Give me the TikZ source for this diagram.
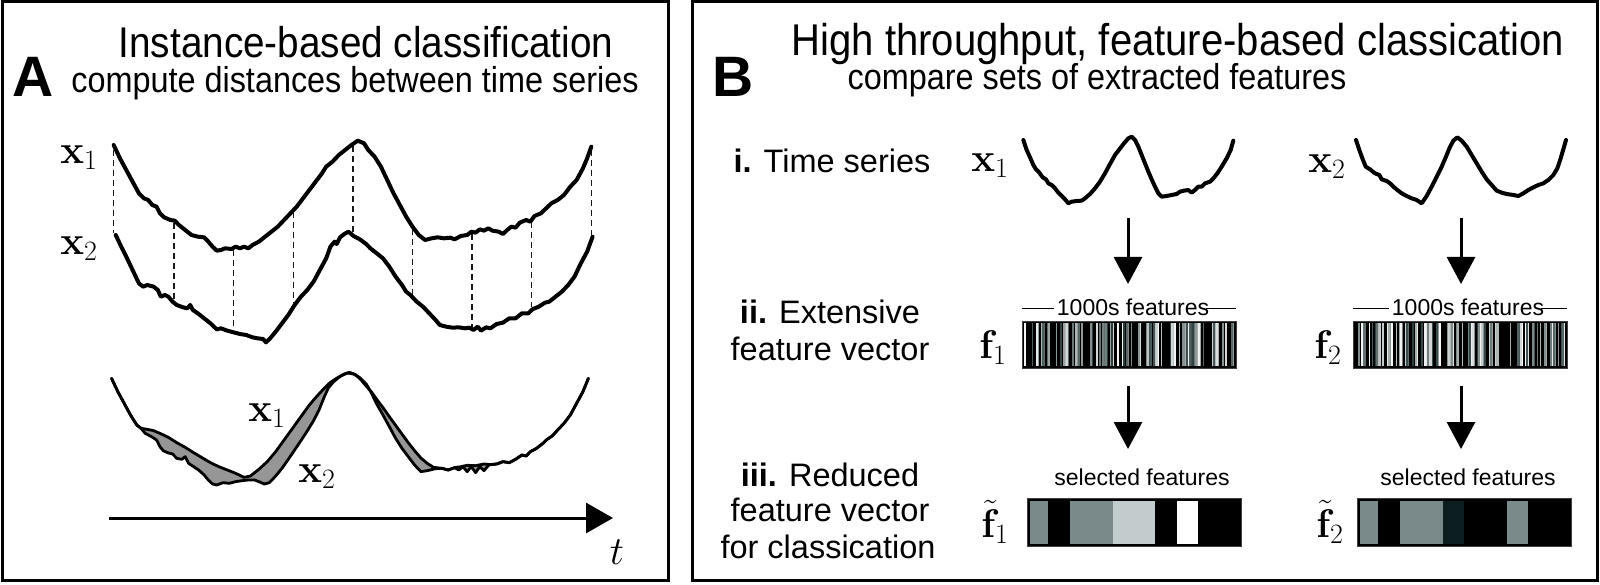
\RequirePackage{fix-cm}
\documentclass[tikz,border=0pt]{standalone}
\usepackage[no-math]{fontspec}
\setmainfont{Liberation Sans}
\newfontfamily\titlefont[FakeStretch=0.9]{Liberation Sans}
\usetikzlibrary{arrows.meta}
\definecolor{fillgray}{RGB}{150,150,150}
\definecolor{bartone}{RGB}{40,58,58}
\definecolor{cellgray}{RGB}{122,138,138}
\definecolor{celllight}{RGB}{195,204,204}
\definecolor{celldark}{RGB}{12,30,32}
\newcommand\drawbarcode[2]{%
  \pgfmathsetseed{#2}%
  \foreach \i in {0,...,139}{%
    \pgfmathsetmacro\r{rnd}%
    \pgfmathtruncatemacro\s{100*rnd}%
    \pgfmathsetmacro\xa{#1+2+1.5*\i}%
    \ifdim\r pt>0.45pt
      \fill[white!\s!bartone] (\xa,323) rectangle ++(1.5,43);
    \fi
  }%
}
\def\bA{(265,235) -- (280,275) -- (295,310) -- (310,345) -- (325,375) -- (335,385) -- (350,388) -- (365,392) -- (380,400) -- (400,412) -- (420,428) -- (440,442) -- (460,458) -- (480,473) -- (500,488) -- (520,500) -- (540,510) -- (560,520) -- (580,532) -- (595,528) -- (615,508) -- (635,485) -- (655,455) -- (675,420) -- (695,385) -- (715,350) -- (735,315) -- (752,290) -- (768,268) -- (782,250) -- (797,237) -- (812,226) -- (826,219) -- (840,222) -- (855,233) -- (870,252) -- (882,278) -- (895,312) -- (910,345) -- (925,380) -- (940,415) -- (955,445) -- (970,470) -- (985,495) -- (1000,515) -- (1015,512) -- (1035,506) -- (1050,505) -- (1065,510) -- (1080,503) -- (1095,500) -- (1110,496) -- (1130,497) -- (1150,492) -- (1165,494) -- (1180,492) -- (1195,485) -- (1210,488) -- (1225,478) -- (1240,465) -- (1250,468) -- (1260,455) -- (1275,445) -- (1290,430) -- (1300,418) -- (1312,408) -- (1325,390) -- (1340,370) -- (1355,345) -- (1370,310) -- (1385,275) -- (1398,235)}
\def\bB{(265,235) -- (280,275) -- (295,310) -- (310,345) -- (325,375) -- (335,385) -- (345,400) -- (360,410) -- (372,420) -- (380,440) -- (388,452) -- (398,458) -- (410,462) -- (420,475) -- (432,478) -- (440,470) -- (448,490) -- (460,500) -- (472,510) -- (485,525) -- (495,540) -- (505,552) -- (515,555) -- (530,548) -- (545,550) -- (560,545) -- (575,542) -- (590,540) -- (605,540) -- (615,545) -- (628,552) -- (640,548) -- (655,528) -- (670,505) -- (685,478) -- (700,450) -- (715,422) -- (730,393) -- (745,362) -- (758,330) -- (770,292) -- (780,264) -- (792,246) -- (805,232) -- (818,222) -- (830,217) -- (845,224) -- (858,240) -- (870,258) -- (882,275) -- (895,298) -- (910,323) -- (925,350) -- (940,376) -- (955,402) -- (970,428) -- (985,452) -- (1000,474) -- (1015,490) -- (1030,502) -- (1050,505) -- (1065,510) -- (1080,503) -- (1090,510) -- (1100,500) -- (1110,515) -- (1120,500) -- (1130,518) -- (1140,500) -- (1150,512) -- (1162,494) -- (1180,492) -- (1195,485) -- (1210,488) -- (1225,478) -- (1240,465) -- (1250,468) -- (1260,455) -- (1275,445) -- (1290,430) -- (1300,418) -- (1312,408) -- (1325,390) -- (1340,370) -- (1355,345) -- (1370,310) -- (1385,275) -- (1398,235)}
\def\bBrev{(1398,235) -- (1385,275) -- (1370,310) -- (1355,345) -- (1340,370) -- (1325,390) -- (1312,408) -- (1300,418) -- (1290,430) -- (1275,445) -- (1260,455) -- (1250,468) -- (1240,465) -- (1225,478) -- (1210,488) -- (1195,485) -- (1180,492) -- (1162,494) -- (1150,512) -- (1140,500) -- (1130,518) -- (1120,500) -- (1110,515) -- (1100,500) -- (1090,510) -- (1080,503) -- (1065,510) -- (1050,505) -- (1030,502) -- (1015,490) -- (1000,474) -- (985,452) -- (970,428) -- (955,402) -- (940,376) -- (925,350) -- (910,323) -- (895,298) -- (882,275) -- (870,258) -- (858,240) -- (845,224) -- (830,217) -- (818,222) -- (805,232) -- (792,246) -- (780,264) -- (770,292) -- (758,330) -- (745,362) -- (730,393) -- (715,422) -- (700,450) -- (685,478) -- (670,505) -- (655,528) -- (640,548) -- (628,552) -- (615,545) -- (605,540) -- (590,540) -- (575,542) -- (560,545) -- (545,550) -- (530,548) -- (515,555) -- (505,552) -- (495,540) -- (485,525) -- (472,510) -- (460,500) -- (448,490) -- (440,470) -- (432,478) -- (420,475) -- (410,462) -- (398,458) -- (388,452) -- (380,440) -- (372,420) -- (360,410) -- (345,400) -- (335,385) -- (325,375) -- (310,345) -- (295,310) -- (280,275) -- (265,235)}
\begin{document}
\begin{tikzpicture}[x=1pt,y=-1pt,
  frame/.style={line width=3pt},
  series/.style={line width=4pt, line join=round, line cap=round},
  thinseries/.style={line width=2.8pt, line join=round, line cap=round},
  guide/.style={line width=1.6pt, dash pattern=on 6pt off 4pt, black!90},
  flow/.style={line width=3pt, -{Triangle[length=27pt,width=28pt]}},
  rulestyle/.style={line width=1.5pt},
  panel/.style={font=\fontsize{57}{60}\selectfont\bfseries, inner sep=0pt, anchor=base},
  maintitle/.style={font=\titlefont\fontsize{43}{48}\selectfont, inner sep=0pt, anchor=base},
  subtitle/.style={font=\titlefont\fontsize{36}{40}\selectfont, inner sep=0pt, anchor=base},
  rowlabel/.style={font=\fontsize{32.5}{36}\selectfont, inner sep=0pt, anchor=base},
  mathlabel/.style={font=\fontsize{40}{44}\selectfont, inner sep=0pt},
  smalltext/.style={font=\fontsize{23}{26}\selectfont, inner sep=1pt, anchor=base},
  barbox/.style={fill=black, draw=black!75, line width=0.8pt, inner sep=0pt, minimum width=214pt, minimum height=47pt},
]
\useasboundingbox (0,0) rectangle (1600,585);
% frames
\draw[frame] (2,2) rectangle (668,580);
\draw[frame] (692,2) rectangle (1597,580);
% ---------- Panel A ----------
\node[panel] (lblA) at (33,97) {A};
\node[maintitle] (ttlA) at (366,58) {Instance-based classification};
\node[subtitle] (subA) at (355,93) {compute distances between time series};
\node[mathlabel] (ax1) at (79,158) {$\mathbf{x}_1$};
\node[mathlabel] (ax2) at (79,249) {$\mathbf{x}_2$};
\begin{scope}[shift={(0,100)}, xscale=0.42088, yscale=0.33333]
  \coordinate (g1t) at (270,150);  \coordinate (g1b) at (270,400);
  \coordinate (g2t) at (413,368);  \coordinate (g2b) at (413,598);
  \coordinate (g3t) at (555,450);  \coordinate (g3b) at (555,690);
  \coordinate (g4t) at (697,337);  \coordinate (g4b) at (697,610);
  \coordinate (g5t) at (838,138);  \coordinate (g5b) at (838,400);
  \coordinate (g6t) at (980,386);  \coordinate (g6b) at (980,588);
  \coordinate (g7t) at (1122,401); \coordinate (g7b) at (1122,680);
  \coordinate (g8t) at (1263,366); \coordinate (g8b) at (1263,622);
  \coordinate (g9t) at (1405,150); \coordinate (g9b) at (1405,405);
  \foreach \k in {1,...,9}{\draw[guide] (g\k t) -- (g\k b);}
  \draw[series] (270,135) -- (285,175) -- (300,210) -- (315,245) -- (330,280) -- (342,295) -- (352,300) -- (362,315) -- (372,320) -- (380,340) -- (390,352) -- (405,360) -- (415,362) -- (425,375) -- (440,390) -- (455,405) -- (470,410) -- (485,412) -- (495,425) -- (505,440) -- (515,452) -- (525,450) -- (535,445) -- (550,447) -- (560,440) -- (570,445) -- (580,440) -- (590,445) -- (600,435) -- (615,425) -- (630,410) -- (645,395) -- (660,380) -- (675,360) -- (690,340) -- (705,320) -- (720,295) -- (735,270) -- (750,245) -- (765,220) -- (775,200) -- (790,185) -- (805,165) -- (820,150) -- (835,135) -- (850,122) -- (865,130) -- (875,150) -- (890,170) -- (905,200) -- (920,240) -- (935,280) -- (950,315) -- (965,350) -- (980,380) -- (995,405) -- (1010,420) -- (1025,415) -- (1040,412) -- (1055,415) -- (1070,413) -- (1080,418) -- (1095,408) -- (1110,405) -- (1120,395) -- (1130,398) -- (1140,388) -- (1150,392) -- (1160,385) -- (1170,392) -- (1185,395) -- (1195,402) -- (1205,390) -- (1215,380) -- (1225,383) -- (1235,368) -- (1250,360) -- (1260,365) -- (1270,348) -- (1285,340) -- (1300,322) -- (1310,310) -- (1325,300) -- (1340,285) -- (1355,260) -- (1370,240) -- (1385,205) -- (1395,175) -- (1405,140);
  \draw[series] (275,405) -- (288,440) -- (300,470) -- (315,510) -- (330,550) -- (340,560) -- (350,555) -- (365,560) -- (375,570) -- (382,590) -- (392,585) -- (400,590) -- (410,605) -- (420,615) -- (435,622) -- (445,625) -- (452,615) -- (458,630) -- (470,640) -- (485,655) -- (500,670) -- (515,688) -- (525,685) -- (540,692) -- (555,697) -- (570,702) -- (585,705) -- (600,712) -- (612,715) -- (625,717) -- (632,727) -- (642,715) -- (655,695) -- (670,670) -- (685,645) -- (700,615) -- (715,590) -- (730,570) -- (745,545) -- (760,510) -- (775,475) -- (785,440) -- (795,425) -- (800,432) -- (808,412) -- (818,402) -- (828,395) -- (840,408) -- (855,418) -- (870,432) -- (880,445) -- (895,460) -- (910,475) -- (925,500) -- (940,530) -- (955,555) -- (965,575) -- (975,585) -- (990,605) -- (1005,620) -- (1020,640) -- (1035,660) -- (1045,675) -- (1060,680) -- (1075,683) -- (1090,682) -- (1105,685) -- (1115,683) -- (1125,690) -- (1135,680) -- (1143,692) -- (1155,682) -- (1165,685) -- (1180,672) -- (1195,668) -- (1210,655) -- (1225,655) -- (1240,640) -- (1255,640) -- (1265,628) -- (1280,620) -- (1295,608) -- (1305,605) -- (1320,590) -- (1335,575) -- (1350,555) -- (1365,530) -- (1380,490) -- (1395,455) -- (1408,410);
\end{scope}
\begin{scope}[shift={(0,300)}, xscale=0.42088, yscale=0.33333]
  \fill[fillgray] \bA -- \bBrev -- cycle;
  \draw[thinseries] \bA;
  \draw[thinseries] \bB;
\end{scope}
\node[mathlabel] (bx1) at (267,416) {$\mathbf{x}_1$};
\node[mathlabel] (bx2) at (317,477) {$\mathbf{x}_2$};
\coordinate (t0) at (109,518);
\coordinate (t1) at (613,518);
\draw[line width=3pt, -{Triangle[length=27pt,width=30pt]}] (t0) -- (t1);
\node[mathlabel] (tl) at (617,552) {$t$};
% ---------- Panel B ----------
\node[panel] (lblB) at (733,97) {B};
\node[maintitle, font=\titlefont\fontsize{44.5}{48}\selectfont] (ttlB) at (1178,56) {High throughput, feature-based classication};
\node[subtitle] (subB) at (1097,90) {compare sets of extracted features};
\node[rowlabel] (r1) at (832,173) {\textbf{i.} Time series};
\node[rowlabel] (r2a) at (830,323) {\textbf{ii.} Extensive};
\node[rowlabel] (r2b) at (830,360) {feature vector};
\node[rowlabel] (r3a) at (830,486) {\textbf{iii.} Reduced};
\node[rowlabel] (r3b) at (830,521) {feature vector};
\node[rowlabel] (r3c) at (828,558) {for classication};
% time series
\node[mathlabel] (sx1) at (990,166) {$\mathbf{x}_1$};
\node[mathlabel] (sx2) at (1327,167) {$\mathbf{x}_2$};
\begin{scope}[shift={(980,120)}, scale=0.33333]
  \draw[series] (130,60) -- (140,90) -- (150,112) -- (160,135) -- (168,148) -- (178,158) -- (188,172) -- (198,178) -- (205,190) -- (215,195) -- (225,205) -- (235,218) -- (245,228) -- (255,238) -- (265,250) -- (275,245) -- (290,243) -- (305,242) -- (315,235) -- (330,222) -- (345,205) -- (360,185) -- (375,160) -- (390,132) -- (405,105) -- (418,88) -- (432,70) -- (445,55) -- (455,50) -- (465,60) -- (475,80) -- (485,105) -- (495,130) -- (505,155) -- (515,178) -- (525,200) -- (535,220) -- (545,230) -- (560,228) -- (575,225) -- (590,222) -- (600,215) -- (612,212) -- (625,210) -- (635,218) -- (645,210) -- (655,200) -- (665,200) -- (675,190) -- (690,185) -- (700,175) -- (712,160) -- (725,140) -- (740,115) -- (752,90) -- (760,62);
\end{scope}
\begin{scope}[shift={(1320,120)}, scale=0.33333]
  \draw[series] (108,60) -- (118,90) -- (127,115) -- (137,140) -- (150,148) -- (165,160) -- (178,165) -- (185,178) -- (200,183) -- (210,190) -- (220,200) -- (232,210) -- (245,220) -- (260,228) -- (275,235) -- (290,240) -- (305,250) -- (320,228) -- (335,200) -- (350,170) -- (365,140) -- (378,110) -- (388,85) -- (400,62) -- (412,52) -- (425,62) -- (440,80) -- (455,105) -- (470,130) -- (485,155) -- (500,178) -- (515,195) -- (530,212) -- (545,218) -- (560,222) -- (580,225) -- (595,228) -- (610,220) -- (625,210) -- (640,202) -- (655,195) -- (670,190) -- (685,180) -- (700,165) -- (712,145) -- (722,115) -- (738,60);
\end{scope}
% arrows
\coordinate (a1s) at (1128,218); \coordinate (a1e) at (1128,284);
\coordinate (a2s) at (1461,218); \coordinate (a2e) at (1461,284);
\coordinate (a3s) at (1128,386); \coordinate (a3e) at (1128,449);
\coordinate (a4s) at (1461,386); \coordinate (a4e) at (1461,449);
\draw[flow] (a1s) -- (a1e);
\draw[flow] (a2s) -- (a2e);
\draw[flow] (a3s) -- (a3e);
\draw[flow] (a4s) -- (a4e);
% extensive feature vectors
\node[barbox] (fv1) at (1129,344.5) {};
\drawbarcode{1022}{11}
\node[barbox] (fv2) at (1460,344.5) {};
\drawbarcode{1353}{29}
\node[smalltext] (c1) at (1133,315) {1000s features};
\node[smalltext] (c2) at (1468,315) {1000s features};
\draw[rulestyle] ([yshift=4pt]fv1.north west |- c1.mid) -- ([xshift=-2pt,yshift=4pt]c1.mid west);
\draw[rulestyle] ([xshift=-4pt,yshift=4pt]c1.mid east) -- ([yshift=4pt]fv1.north east |- c1.mid);
\draw[rulestyle] ([yshift=4pt]fv2.north west |- c2.mid) -- ([xshift=-2pt,yshift=4pt]c2.mid west);
\draw[rulestyle] ([xshift=-4pt,yshift=4pt]c2.mid east) -- ([yshift=4pt]fv2.north east |- c2.mid);
\node[mathlabel] (fl1) at (993,348) {$\mathbf{f}_1$};
\node[mathlabel] (fl2) at (1328,348) {$\mathbf{f}_2$};
% reduced feature vectors
\node[barbox, minimum height=48pt] (rv1) at (1134,522) {};
\fill[cellgray] (1029.5,500.5) rectangle (1048.4,543.5);
\fill[cellgray] (1069.8,500.5) rectangle (1112.6,543.5);
\fill[celllight] (1112.6,500.5) rectangle (1155.4,543.5);
\fill[white] (1176.8,500.5) rectangle (1198.2,543.5);
\node[barbox, minimum height=48pt] (rv2) at (1464,522) {};
\fill[cellgray] (1359.5,500.5) rectangle (1378.4,543.5);
\fill[cellgray] (1399.8,500.5) rectangle (1442.6,543.5);
\fill[celldark] (1442.6,500.5) rectangle (1464,543.5);
\fill[cellgray] (1506.8,500.5) rectangle (1528.2,543.5);
\node[smalltext] (sel1) at (1142,485) {selected features};
\node[smalltext] (sel2) at (1468,485) {selected features};
\node[mathlabel] (rl1) at (995,522) {$\tilde{\mathbf{f}}_1$};
\node[mathlabel] (rl2) at (1330,522) {$\tilde{\mathbf{f}}_2$};
\end{tikzpicture}
\end{document}
